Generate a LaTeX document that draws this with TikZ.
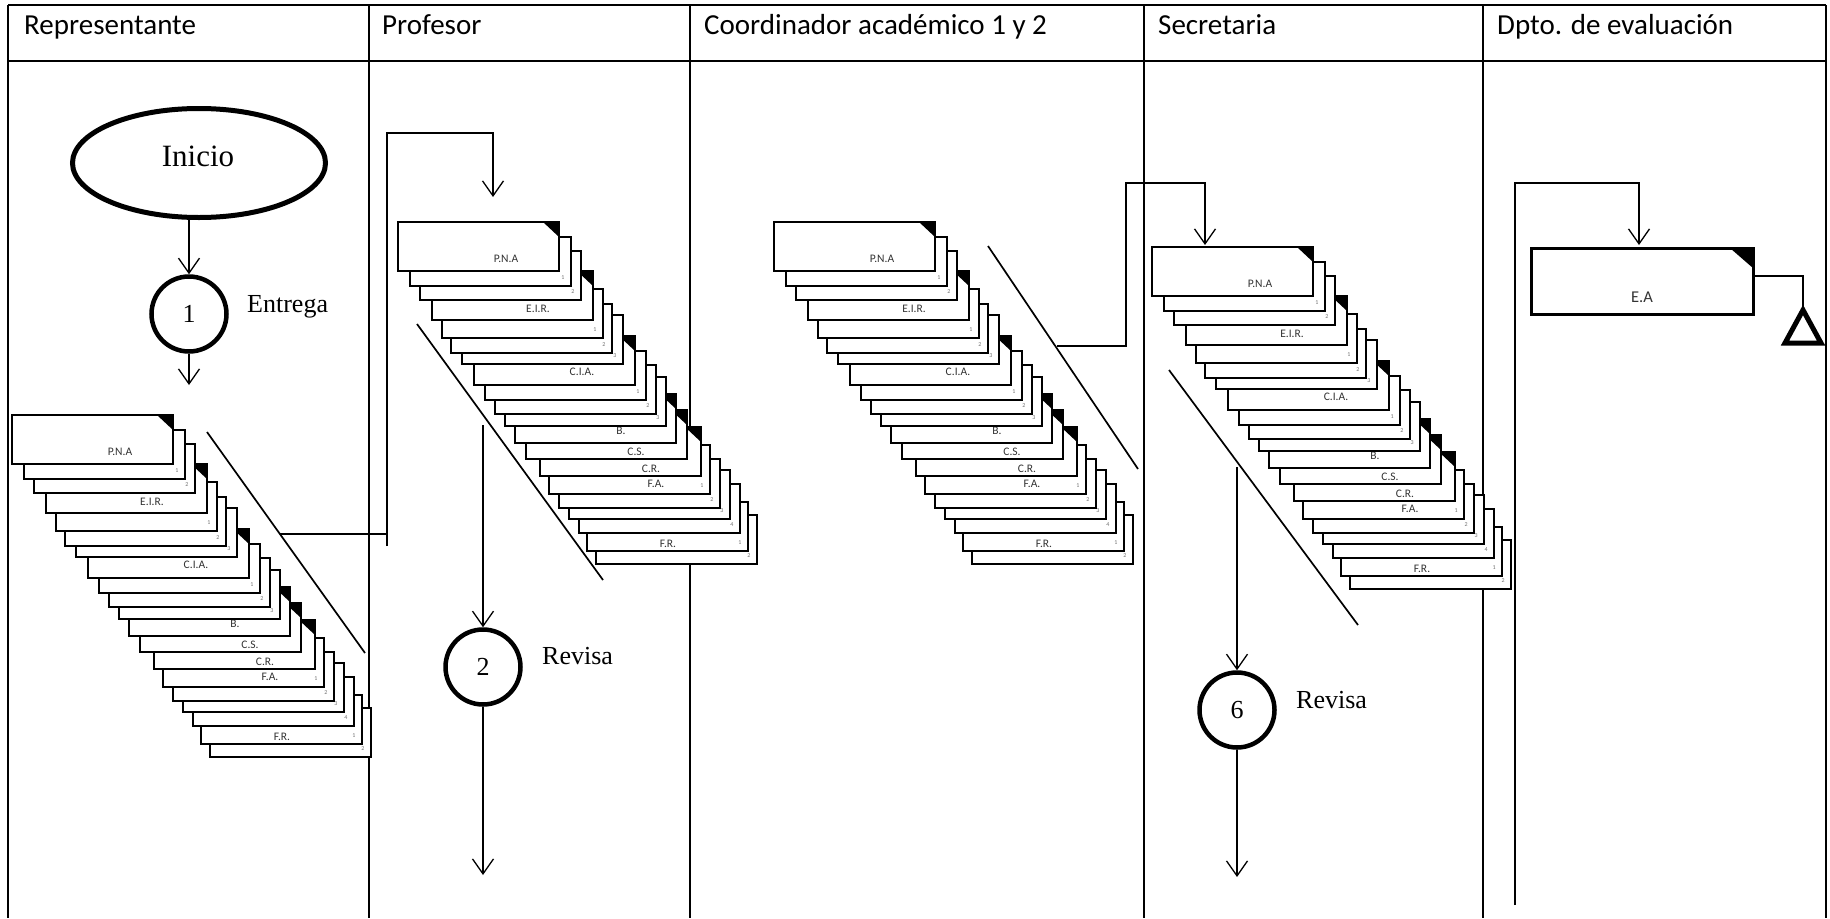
\documentclass[tikz,border=0pt]{standalone}
\usepackage{fontspec}
\setmainfont{Liberation Serif}
\newfontfamily\calib{Carlito}
\usetikzlibrary{arrows.meta,shapes.geometric}
\tikzset{
  lane/.style={line width=2pt},
  conn/.style={line width=1.3pt},
  arr/.style={conn,-{Straight Barb[length=15pt,width=21pt]}},
  diag/.style={line width=1.7pt},
  docbox/.style={draw,fill=white,line width=2pt,minimum width=161pt,minimum height=49pt,inner sep=0pt,outer sep=0pt,anchor=north west},
  doclab/.style={font=\calib\fontsize{11.5}{13}\selectfont,text=black!80,inner sep=0pt},
  docnum/.style={font=\calib\fontsize{6}{7}\selectfont,text=black!55,inner sep=0pt},
  hdr/.style={font=\calib\fontsize{29}{34}\selectfont,anchor=base west,inner sep=0pt},
  startell/.style={ellipse,draw,line width=5pt,minimum width=253pt,minimum height=109pt,inner sep=0pt},
  bigtxt/.style={inner sep=0pt,font=\fontsize{31}{36}\selectfont},
  stepcirc/.style={circle,draw,line width=4.5pt,minimum size=75pt,inner sep=0pt,font=\fontsize{26}{30}\selectfont},
  steplab/.style={anchor=base west,inner sep=0pt,font=\fontsize{26}{30}\selectfont},
  eabox/.style={draw,fill=white,line width=3.3pt,minimum width=222pt,minimum height=66pt,inner sep=0pt,outer sep=0pt},
  ealab/.style={font=\calib\fontsize{16.5}{19}\selectfont,text=black!80,inner sep=0pt},
  archive/.style={draw,fill=white,line width=5pt,line join=miter},
  docstack/.pic={
    \foreach \i/\dx/\dy/\lab/\lx/\ly/\num/\cor in {
      20/198/293/{}/0/0/2/0,
      19/189/280/F.R./81/42/1/0,
      18/181/262/{}/0/0/4/0,
      17/171/248/{}/0/0/3/0,
      16/161/237/{}/0/0/2/0,
      15/151/223/F.A./107/39/1/0,
      14/142/205/C.R./111/42/{}/1,
      13/128/188/C.S./110/42/{}/1,
      12/117/172/B./106/37/{}/1,
      11/107/155/{}/0/0/3/0,
      10/97/143/{}/0/0/2/0,
      9/87/129/{}/0/0/1/0,
      8/76/114/C.I.A./108/36/{}/1,
      7/64/93/{}/0/0/3/0,
      6/53/82/{}/0/0/2/0,
      5/44/67/{}/0/0/1/0,
      4/34/49/E.I.R./106/38/{}/1,
      3/22/29/{}/0/0/2/0,
      2/12/15/{}/0/0/1/0,
      1/0/0/P.N.A/108/37/{}/1}
    {
      \node[docbox] (-d\i) at (\dx,\dy) {};
      \ifnum\cor=1
        \fill (\dx+145,\dy) -- (\dx+161,\dy) -- (\dx+161,\dy+15) -- cycle;
      \fi
      \node[doclab] (-l\i) at (\dx+\lx,\dy+\ly) {\lab};
      \node[docnum] (-n\i) at (\dx+153,\dy+41) {\num};
    }
  }
}
\begin{document}
\begin{tikzpicture}[x=1pt,y=-1pt]
\useasboundingbox (0,0) rectangle (1830,918);
% swimlane table
\draw[lane] (8,5) -- (1826,5);
\draw[lane] (8,61) -- (1826,61);
\foreach \x in {8,369,690,1144,1483,1826} \draw[lane] (\x,5) -- (\x,918);
\node[hdr] (h1) at (24,34) {Representante};
\node[hdr] (h2) at (382,34) {Profesor};
\node[hdr] (h3) at (704,34) {Coordinador académico 1 y 2};
\node[hdr] (h4) at (1158,34) {Secretaria};
\node[hdr] (h5) at (1497,34) {Dpto. de evaluación};

% document stacks
\pic (s1) at (12,415) {docstack};
\pic (s2) at (398,222) {docstack};
\pic (s3) at (774,222) {docstack};
\pic (s4) at (1152,247) {docstack};

% Representante
\node[startell] (inicio) at (199,163) {};
\node[bigtxt] (iniciotxt) at (198,156) {Inicio};
\node[stepcirc] (c1) at (189,314) {1};
\node[steplab] (t1) at (247,312) {Entrega};
\draw[arr] (inicio.south -| c1.north) -- (c1.north);
\coordinate (a1) at (189,385);
\draw[arr] (c1.south) -- (a1);
\coordinate (d1a) at (207,432);
\coordinate (d1b) at (365,653);
\draw[diag] (d1a) -- (d1b);
\coordinate (j1) at (280,534);
\coordinate (k1) at (387,534);
\coordinate (k1b) at (387,546);
\coordinate (m1) at (493,133);
\coordinate (e1) at (493,197);
\draw[conn] (j1) -- (k1);
\draw[arr] (k1b) |- (m1) -- (e1);

% Profesor
\coordinate (d2a) at (417,324);
\coordinate (d2b) at (603,580);
\draw[diag] (d2a) -- (d2b);
\node[stepcirc] (c2) at (483,667) {2};
\node[steplab] (t2) at (542,664) {Revisa};
\coordinate (j2) at (483,425);
\coordinate (e2) at (483,875);
\draw[arr] (j2) -- (c2.north);
\draw[arr] (c2.south) -- (e2);

% Coordinador
\coordinate (d3a) at (988,246);
\coordinate (d3b) at (1138,469);
\draw[diag] (d3a) -- (d3b);
\coordinate (j3) at (1057,346);
\coordinate (m3) at (1126,183);
\coordinate (e3) at (1205,245);
\draw[arr] (j3) -| (m3) -| (e3);

% Secretaria
\coordinate (d4a) at (1169,370);
\coordinate (d4b) at (1358,625);
\draw[diag] (d4a) -- (d4b);
\node[stepcirc] (c6) at (1237,710) {6};
\node[steplab] (t6) at (1296,708) {Revisa};
\coordinate (j4) at (1237,467);
\coordinate (e4) at (1237,877);
\draw[arr] (j4) -- (c6.north);
\draw[arr] (c6.south) -- (e4);

% Dpto. de evaluacion
\node[eabox] (ea) at (1642.5,281.5) {};
\fill (ea.north east) -- ++(-23,0) -- ++(23,20) -- cycle;
\node[ealab] (eatxt) at (1642,297) {E.A};
\coordinate (j5) at (1515,905);
\coordinate (e5) at (1639,245);
\draw[arr] (j5) |- (e5 |- 0,183) -- (e5);
\coordinate (arch) at (1803,310);
\draw[archive] (arch) -- (1821,343) -- (1785,343) -- cycle;
\coordinate (ea1) at (1753,276);
\draw[conn] (ea1) -| (arch);
\end{tikzpicture}
\end{document}
